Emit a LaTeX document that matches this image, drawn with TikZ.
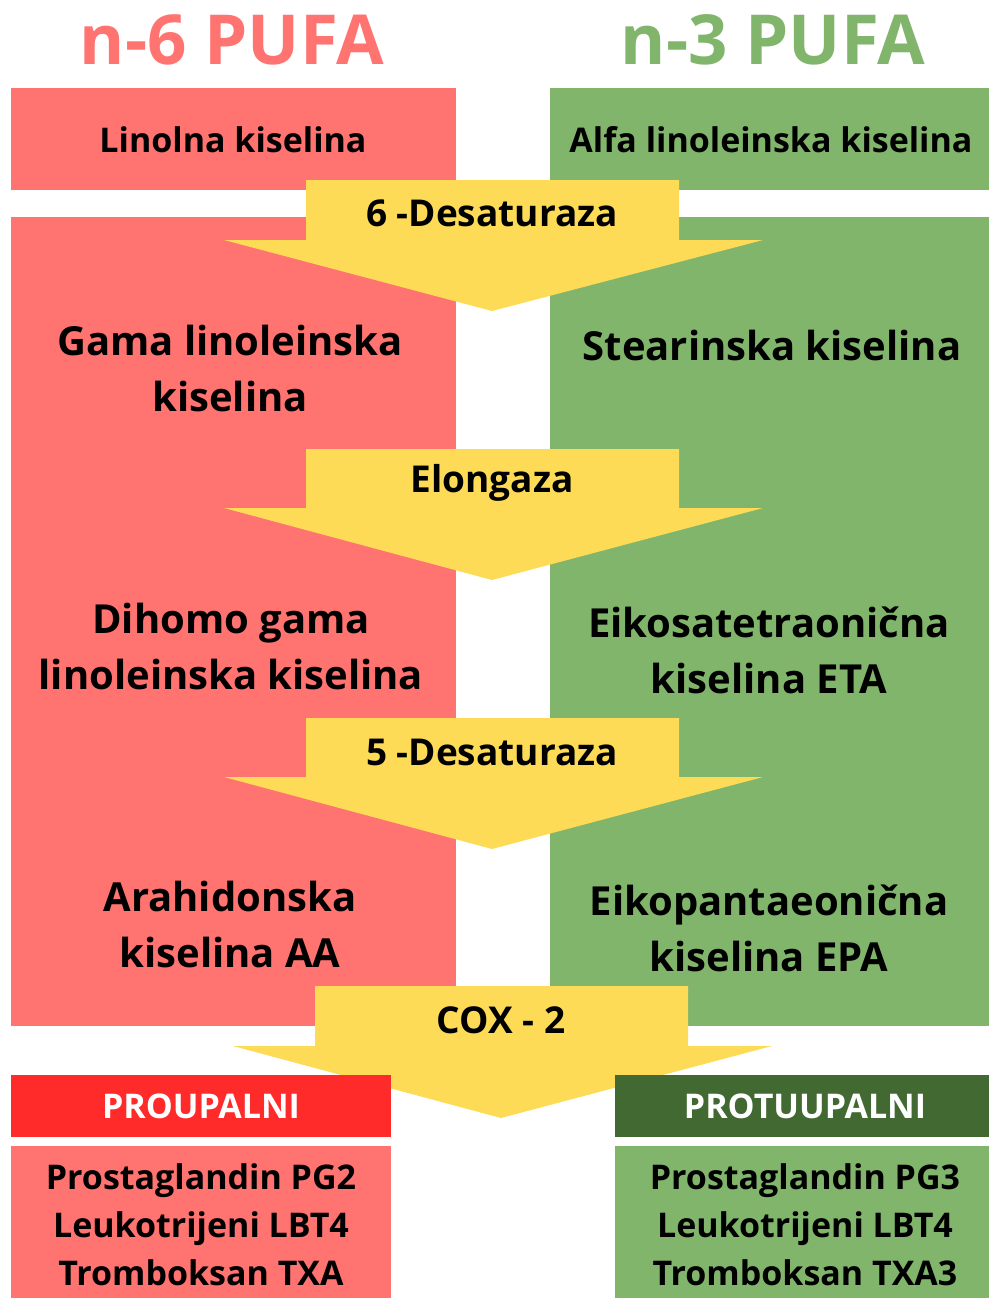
\documentclass[tikz,border=0pt]{standalone}
\usepackage{fontspec}
\setmainfont{Open Sans}
\usepackage{tikz}
\usetikzlibrary{positioning}

\definecolor{salmon}{HTML}{FF7370}
\definecolor{leaf}{HTML}{82B56C}
\definecolor{sun}{HTML}{FEDB56}
\definecolor{hotred}{HTML}{FF2A2A}
\definecolor{forest}{HTML}{426932}

\begin{document}
\begin{tikzpicture}[x=1pt,y=-1pt,
  title/.style={font=\bfseries\fontsize{69}{70}\selectfont,inner sep=0pt},
  small/.style={font=\bfseries\fontsize{34}{48}\selectfont,align=center,inner sep=0pt},
  enz/.style={font=\bfseries\fontsize{37}{40}\selectfont,inner sep=0pt},
  big/.style={font=\bfseries\fontsize{40}{56}\selectfont,align=center,inner sep=0pt},
  head/.style={font=\bfseries\fontsize{34}{36}\selectfont,text=white,inner sep=0pt}]
  \useasboundingbox (0,0) rectangle (989,1298);

  % titles
  \node[title,text=salmon] (n6) at (232,40) {n-6 PUFA};
  \node[title,text=leaf] (n3) at (773,40) {n-3 PUFA};

  % columns
  \fill[salmon] (11,88) rectangle (456,190);
  \fill[leaf] (550,88) rectangle (989,190);
  \fill[salmon] (11,217) rectangle (456,1026);
  \fill[leaf] (550,217) rectangle (989,1026);

  % enzyme arrows
  \fill[sun] (306,180) -- (679,180) -- (679,240) -- (763,240) -- (492,311) -- (224,240) -- (306,240) -- cycle;
  \fill[sun] (306,449) -- (679,449) -- (679,508) -- (763,508) -- (492,580) -- (224,508) -- (306,508) -- cycle;
  \fill[sun] (306,718) -- (679,718) -- (679,777) -- (763,777) -- (492,849) -- (224,777) -- (306,777) -- cycle;
  \fill[sun] (315,986) -- (688,986) -- (688,1046) -- (772,1046) -- (501,1118) -- (233,1046) -- (315,1046) -- cycle;

  % bottom boxes
  \fill[hotred] (11,1075) rectangle (391,1137);
  \fill[forest] (615,1075) rectangle (989,1137);
  \fill[salmon] (11,1146) rectangle (391,1298);
  \fill[leaf] (615,1146) rectangle (989,1298);

  \node[small] (la) at (233,140) {Linolna kiselina};
  \node[small] (ala) at (771,140) {Alfa linoleinska kiselina};
  \node[enz] (d6) at (492,213) {6 -Desaturaza};

  \node[big] (gla) at (230,368) {Gama linoleinska\\kiselina};
  \node[big] (sda) at (772,345) {Stearinska kiselina};
  \node[enz] (elo) at (492,483) {Elongaza};

  \node[big] (dgla) at (231,646) {Dihomo gama\\linoleinska kiselina};
  \node[big] (eta) at (769,650) {Eikosatetraonična\\kiselina ETA};
  \node[enz] (d5) at (492,752) {5 -Desaturaza};

  \node[big] (aa) at (230,924) {Arahidonska\\kiselina AA};
  \node[big] (epa) at (769,928) {Eikopantaeonična\\kiselina EPA};
  \node[enz] (cox) at (501,1020) {COX - 2};

  \node[head] (pro) at (201,1106) {PROUPALNI};
  \node[head] (anti) at (805,1106) {PROTUUPALNI};
  \node[small] (prolist) at (201,1225) {Prostaglandin PG2\\Leukotrijeni LBT4\\Tromboksan TXA};
  \node[small] (antilist) at (805,1225) {Prostaglandin PG3\\Leukotrijeni LBT4\\Tromboksan TXA3};
\end{tikzpicture}
\end{document}
